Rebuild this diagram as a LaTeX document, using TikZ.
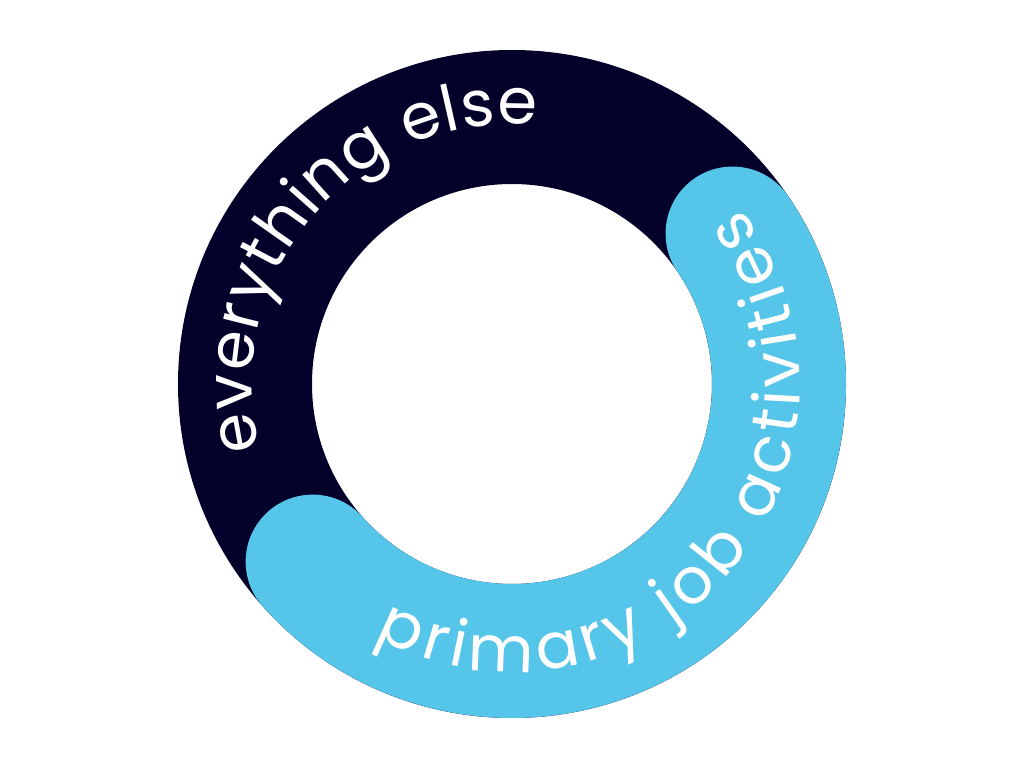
\documentclass[tikz,border=0pt]{standalone}
\usepackage{fontspec}
\setmainfont{Poppins}
\usetikzlibrary{decorations.text}
\definecolor{navy}{HTML}{03002A}
\definecolor{sky}{HTML}{56C5EA}
\newcommand\ringfont{\fontsize{64}{72}\selectfont}
\tikzset{
  ringtext/.style={decorate, decoration={text along path, text align={fit to path}, text color=white, text={#1}}}
}
\begin{document}
\begin{tikzpicture}[x=1pt,y=1pt]
\useasboundingbox (-512,-384) rectangle (512,384);
\fill[navy, even odd rule] (0,0) circle (334) (0,0) circle (200);
\draw[sky, line width=134pt, line cap=round] (34.3:267) arc (34.3:-138.3:267);
\path[ringtext={|\ringfont|everything else}] (194.6:260) arc (194.6:84.5:260);
\path[ringtext={|\ringfont|primary job activities}] (-118.5:288) arc (-118.5:37.5:288);
\end{tikzpicture}
\end{document}
